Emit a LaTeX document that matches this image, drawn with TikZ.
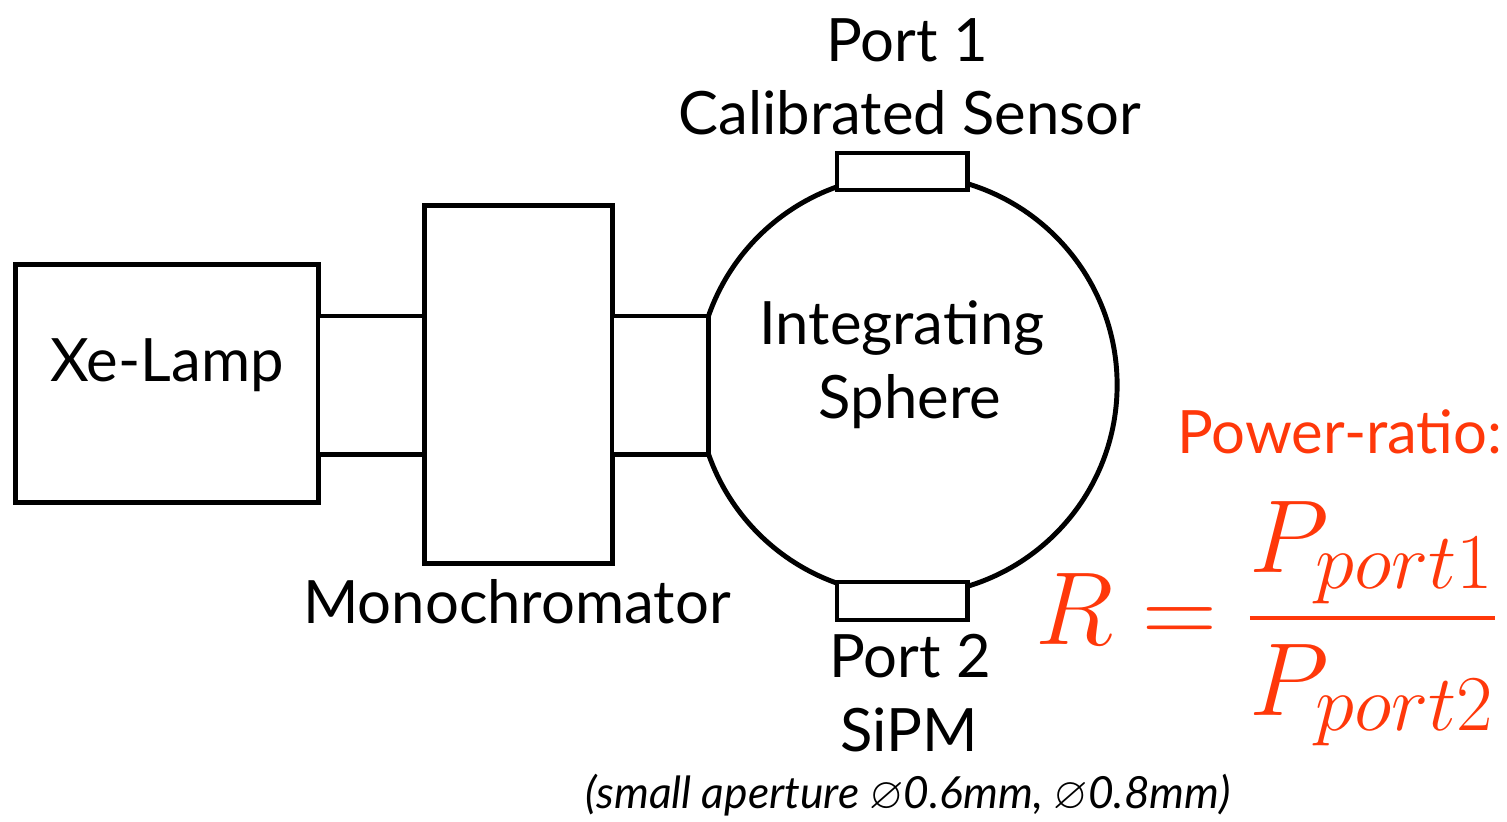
\RequirePackage{fix-cm}
\documentclass[tikz,border=0pt]{standalone}
\usepackage{amsmath,amssymb}
\usepackage{fontspec}
\setmainfont{Lato}
\DeclareMathSizes{29.5}{29.5}{22.5}{17}
\definecolor{pr}{RGB}{255,56,10}
\begin{document}
\begin{tikzpicture}[x=0.01cm,y=-0.01cm,
  box/.style={draw,line width=1.4pt,fill=white,inner sep=0pt,outer sep=0pt},
  lbl/.style={font=\fontsize{17}{20}\selectfont,inner sep=0pt},
  small/.style={font=\fontsize{12.6}{15}\selectfont\itshape,inner sep=0pt}]
\useasboundingbox (0,0) rectangle (1507,821);
% sphere
\node[circle,draw,line width=1.4pt,minimum size=4.2cm,inner sep=0pt] (sphere) at (907,385) {};
% boxes
\node[box,minimum width=3.02cm,minimum height=2.37cm] (lamp) at (167,383.5) {};
\node[box,minimum width=1.07cm,minimum height=1.38cm] (c1) at (371.5,385) {};
\node[box,minimum width=1.87cm,minimum height=3.57cm] (mono) at (518.5,384.5) {};
\node[box,minimum width=0.96cm,minimum height=1.38cm] (c2) at (660,385) {};
\node[box,minimum width=1.30cm,minimum height=0.37cm] (p1) at (902,171.5) {};
\node[box,minimum width=1.30cm,minimum height=0.38cm] (p2) at (902,601) {};
% labels
\node[lbl] (tlamp) at (167,365) {Xe-Lamp};
\node[lbl] (tmono) at (517,602) {Monochromator};
\node[lbl] (tint) at (902,328) {Integrating};
\node[lbl] (tsph) at (910,402) {Sphere};
\node[lbl] (tp1) at (907,40) {Port 1};
\node[lbl] (tcal) at (910,113) {Calibrated Sensor};
\node[lbl] (tp2) at (910,656) {Port 2};
\node[lbl] (tsipm) at (909,730) {SiPM};
\node[small] (tap) at (908,795) {(small aperture $\varnothing$0.6mm, $\varnothing$0.8mm)};
\node[lbl,text=pr] (tpow) at (1340,432) {Power-ratio:};
\node[text=pr,font=\fontsize{29.5}{35}\selectfont,inner sep=0pt] (form) at (1267,624) {$R = \dfrac{P_{port1}}{P_{port2}}$};
\end{tikzpicture}
\end{document}
